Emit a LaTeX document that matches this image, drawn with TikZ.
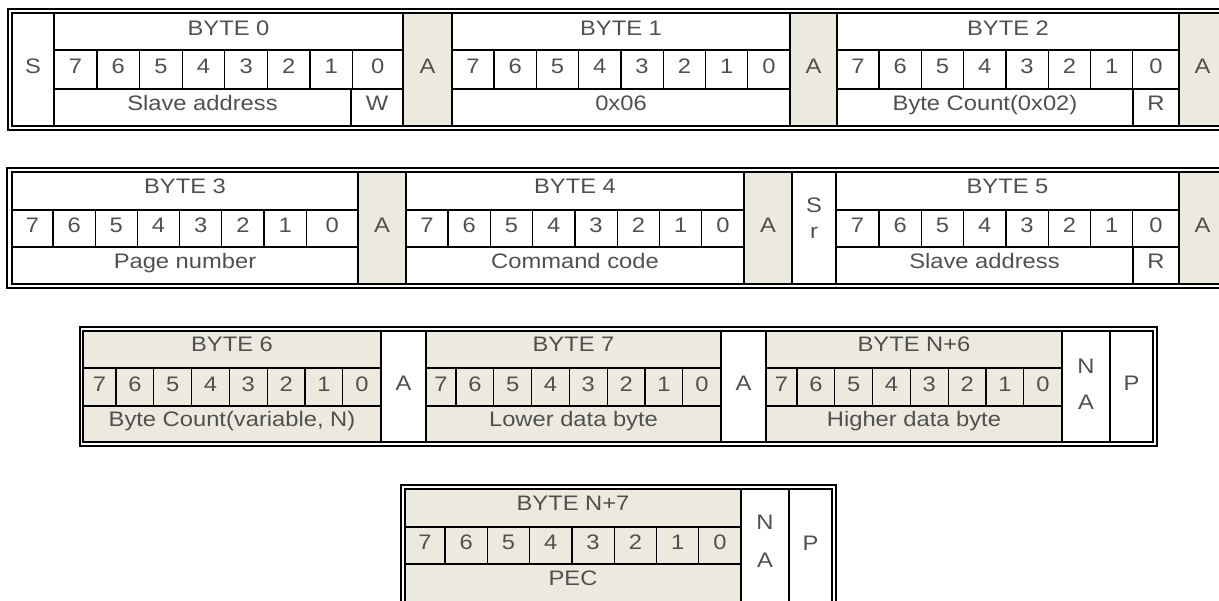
\documentclass[tikz,border=0pt]{standalone}
\usepackage{fontspec}
\newfontfamily\fuenteCelda[FakeStretch=1.13]{Liberation Sans}
\usepackage{xcolor}
\definecolor{grisTexto}{HTML}{505050}
\definecolor{beigeTrama}{HTML}{ECE9DF}
\usepackage{tikz}

% casillas de los 8 bits: nombre, x izq., ancho bit 7, paso, x der., y sup., y inf.
\newcommand{\filaBits}[7]{%
  \foreach \k in {0,...,7}{%
    \pgfmathsetmacro{\xa}{(\k==0) ? (#2) : (#2+#3+(\k-1)*#4)}%
    \pgfmathsetmacro{\xb}{(\k==7) ? (#5) : (#2+#3+\k*#4)}%
    \pgfmathtruncatemacro{\nbit}{7-\k}%
    \draw[rejilla] (\xa,#6) rectangle (\xb,#7);
    \node[celda] (#1-\nbit) at ({(\xa+\xb)/2},{(#6+#7)/2}) {\nbit};
  }}

\begin{document}
\begin{tikzpicture}[x=1pt,y=-1pt,
    marco/.style={line width=1.6pt},
    rejilla/.style={line width=1.3pt},
    texto/.style={font=\fuenteCelda\fontsize{21}{25}\selectfont,text=grisTexto,
      anchor=base,inner sep=0pt},
    celda/.style={texto,yshift=-4.5pt}]

\useasboundingbox (0,0) rectangle (1219,601);
\clip (0,0) rectangle (1219,601);

% Fila 1: S, BYTE 0, BYTE 1, BYTE 2
\fill[beigeTrama] (403,13) rectangle (452,126);
\fill[beigeTrama] (790,13) rectangle (837,126);
\fill[beigeTrama] (1179,13) rectangle (1226,126);

\draw[rejilla] (12,13) rectangle (54,126);
\draw[rejilla] (54,13) rectangle (403,50);
\filaBits{b0}{54}{43}{42.6}{403}{50}{89}
\draw[rejilla] (54,89) rectangle (351,126) (351,89) rectangle (403,126);
\draw[rejilla] (403,13) rectangle (452,126);
\draw[rejilla] (452,13) rectangle (790,50);
\filaBits{b1}{452}{42}{42.3}{790}{50}{89}
\draw[rejilla] (452,89) rectangle (790,126);
\draw[rejilla] (790,13) rectangle (837,126);
\draw[rejilla] (837,13) rectangle (1179,50);
\filaBits{b2}{837}{42}{42.3}{1179}{50}{89}
\draw[rejilla] (837,89) rectangle (1133,126) (1133,89) rectangle (1179,126);
\draw[rejilla] (1179,13) rectangle (1226,126);

\draw[marco] (8,9) rectangle (1230,130);
\draw[marco] (12,13) rectangle (1226,126);

\node[celda] (inicio) at (33,69.5) {S};
\node[celda] (b0) at (228.5,31.5) {BYTE 0};
\node[celda] (esclavoW) at (202.5,106) {Slave address};
\node[celda] (escW) at (377,106) {W};
\node[celda] (ack0) at (427.5,69.5) {A};
\node[celda] (b1) at (621,31.5) {BYTE 1};
\node[celda] (orden) at (621,106) {0x06};
\node[celda] (ack1) at (813.5,69.5) {A};
\node[celda] (b2) at (1008,31.5) {BYTE 2};
\node[celda] (cuenta) at (985,106) {Byte Count(0x02)};
\node[celda] (lecR) at (1156,106) {R};
\node[celda] (ack2) at (1202.5,69.5) {A};

% Fila 2: BYTE 3, BYTE 4, Sr, BYTE 5
\fill[beigeTrama] (358,172) rectangle (406,284);
\fill[beigeTrama] (744,172) rectangle (792,284);
\fill[beigeTrama] (1179,172) rectangle (1226,284);

\draw[rejilla] (12,172) rectangle (358,210);
\filaBits{b3}{12}{41}{42.2}{358}{210}{247}
\draw[rejilla] (12,247) rectangle (358,284);
\draw[rejilla] (358,172) rectangle (406,284);
\draw[rejilla] (406,172) rectangle (744,210);
\filaBits{b4}{406}{42}{42.3}{744}{210}{247}
\draw[rejilla] (406,247) rectangle (744,284);
\draw[rejilla] (744,172) rectangle (792,284);
\draw[rejilla] (792,172) rectangle (836,284);
\draw[rejilla] (836,172) rectangle (1179,210);
\filaBits{b5}{836}{43}{42.3}{1179}{210}{247}
\draw[rejilla] (836,247) rectangle (1133,284) (1133,247) rectangle (1179,284);
\draw[rejilla] (1179,172) rectangle (1226,284);

\draw[marco] (7,168) rectangle (1230,288);
\draw[marco] (12,172) rectangle (1226,284);

\node[celda] (b3) at (185,189.5) {BYTE 3};
\node[celda] (pagina) at (185,264) {Page number};
\node[celda] (ack3) at (382,228) {A};
\node[celda] (b4) at (575,189.5) {BYTE 4};
\node[celda] (comando) at (575,264) {Command code};
\node[celda] (ack4) at (768,228) {A};
\node[texto] (reinicioS) at (814,212.5) {S};
\node[texto] (reinicioR) at (814,238.5) {r};
\node[celda] (b5) at (1007.5,189.5) {BYTE 5};
\node[celda] (esclavoR) at (984.5,264) {Slave address};
\node[celda] (lecR5) at (1156,264) {R};
\node[celda] (ack5) at (1202.5,228) {A};

% Fila 3: BYTE 6, BYTE 7, BYTE N+6
\fill[beigeTrama] (83,331) rectangle (381,442);
\fill[beigeTrama] (426,331) rectangle (721,442);
\fill[beigeTrama] (766,331) rectangle (1062,442);

\draw[rejilla] (83,331) rectangle (381,368);
\filaBits{b6}{83}{33}{37.8}{381}{368}{406}
\draw[rejilla] (83,406) rectangle (381,442);
\draw[rejilla] (381,331) rectangle (426,442);
\draw[rejilla] (426,331) rectangle (721,368);
\filaBits{b7}{426}{30}{37.8}{721}{368}{406}
\draw[rejilla] (426,406) rectangle (721,442);
\draw[rejilla] (721,331) rectangle (766,442);
\draw[rejilla] (766,331) rectangle (1062,368);
\filaBits{bn6}{766}{31}{37.8}{1062}{368}{406}
\draw[rejilla] (766,406) rectangle (1062,442);
\draw[rejilla] (1062,331) rectangle (1110,442);
\draw[rejilla] (1110,331) rectangle (1153,442);

\draw[marco] (80,327) rectangle (1157,446);
\draw[marco] (83,331) rectangle (1153,442);

\node[celda] (b6) at (232,347.5) {BYTE 6};
\node[celda] (cuentaN) at (232,422) {Byte Count(variable, N)};
\node[celda] (ack6) at (403.5,386.5) {A};
\node[celda] (b7) at (573.5,347.5) {BYTE 7};
\node[celda] (datoBajo) at (573.5,422) {Lower data byte};
\node[celda] (ack7) at (743.5,386.5) {A};
\node[celda] (bn6) at (914,347.5) {BYTE N+6};
\node[celda] (datoAlto) at (914,422) {Higher data byte};
\node[texto] (nack6N) at (1086,373.5) {N};
\node[texto] (nack6A) at (1086,409.5) {A};
\node[celda] (parada6) at (1131.5,386.5) {P};

% Fila 4: BYTE N+7
\fill[beigeTrama] (405,489) rectangle (741,603);

\draw[rejilla] (405,489) rectangle (741,527);
\filaBits{bn7}{405}{40}{42.3}{741}{527}{564}
\draw[rejilla] (405,564) rectangle (741,603);
\draw[rejilla] (741,489) rectangle (789,603);
\draw[rejilla] (789,489) rectangle (832,603);

\draw[marco] (401,485) rectangle (836,607);
\draw[marco] (405,489) rectangle (832,603);

\node[celda] (bn7) at (573,506) {BYTE N+7};
\node[celda] (pec) at (573,580.5) {PEC};
\node[texto] (nack7N) at (765,529.5) {N};
\node[texto] (nack7A) at (765,567.5) {A};
\node[celda] (parada7) at (810.5,546) {P};

\end{tikzpicture}
\end{document}
